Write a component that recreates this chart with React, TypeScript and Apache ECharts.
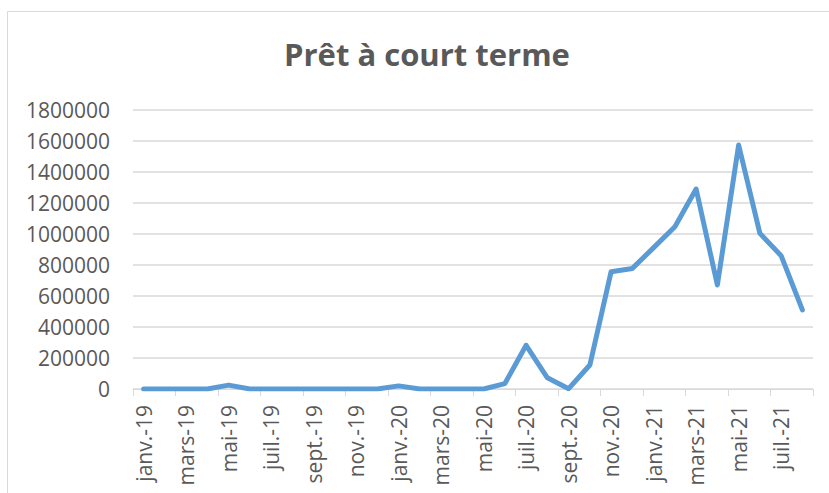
import React, { useEffect, useRef } from "react";
import * as echarts from "echarts";

const categories = [
  "janv.-19", "févr.-19", "mars-19", "avr.-19", "mai-19", "juin-19", "juil.-19", "août-19", "sept.-19", "oct.-19", "nov.-19", "déc.-19",
  "janv.-20", "févr.-20", "mars-20", "avr.-20", "mai-20", "juin-20", "juil.-20", "août-20", "sept.-20", "oct.-20", "nov.-20", "déc.-20",
  "janv.-21", "févr.-21", "mars-21", "avr.-21", "mai-21", "juin-21", "juil.-21", "août-21",
];

const values = [
  0, 0, 0, 0, 25000, 0, 0, 0, 0, 0, 0, 0,
  20000, 0, 0, 0, 0, 35000, 282000, 72000, 2000, 155000, 757000, 778000,
  912000, 1047000, 1290000, 671000, 1574000, 1004000, 860000, 510000,
];

const titleText = "Prêt à court terme";
const yMin = 0;
const yMax = 1800000;
const yStep = 200000;

export default function App() {
  const ref = useRef<HTMLDivElement>(null);
  useEffect(() => {
    document.body.style.margin = "0";
    if (!ref.current) return;
    const chart = echarts.init(ref.current, null, { renderer: "svg" });
    const font = "'Open Sans', sans-serif";
    chart.setOption({
      animation: false,
      backgroundColor: "#ffffff",
      title: {
        text: titleText,
        left: 422,
        top: 33,
        textAlign: "center",
        textStyle: { fontFamily: font, fontSize: 31, fontWeight: "bold", color: "#595959" },
      },
      graphic: [
        {
          type: "rect",
          shape: { x: 7.5, y: 11.5, width: 900, height: 600 },
          style: { fill: "none", stroke: "#d9d9d9", lineWidth: 1 },
          silent: true,
        },
      ],
      grid: { left: 133, right: 16, top: 110, bottom: 104, containLabel: false },
      xAxis: {
        type: "category",
        data: categories,
        boundaryGap: true,
        axisLine: { show: true, lineStyle: { color: "#d9d9d9", width: 1 } },
        axisTick: { show: true, interval: 1, length: 7, lineStyle: { color: "#d9d9d9" } },
        axisLabel: {
          interval: 1,
          rotate: 90,
          margin: 16,
          fontFamily: font,
          fontSize: 21,
          color: "#595959",
        },
        splitLine: { show: false },
      },
      yAxis: {
        type: "value",
        min: yMin,
        max: yMax,
        interval: yStep,
        axisLine: { show: false },
        axisTick: { show: false },
        axisLabel: {
          margin: 23,
          fontFamily: font,
          fontSize: 21,
          color: "#595959",
          formatter: (v: number) => String(v),
        },
        splitLine: { lineStyle: { color: "#d9d9d9", width: 1.5 } },
      },
      series: [
        {
          type: "line",
          data: values,
          symbol: "none",
          lineStyle: { color: "#5b9bd5", width: 5, cap: "round", join: "round" },
          itemStyle: { color: "#5b9bd5" },
        },
      ],
    });
    return () => chart.dispose();
  }, []);
  return <div ref={ref} style={{ width: 829, height: 493 }} />;
}
